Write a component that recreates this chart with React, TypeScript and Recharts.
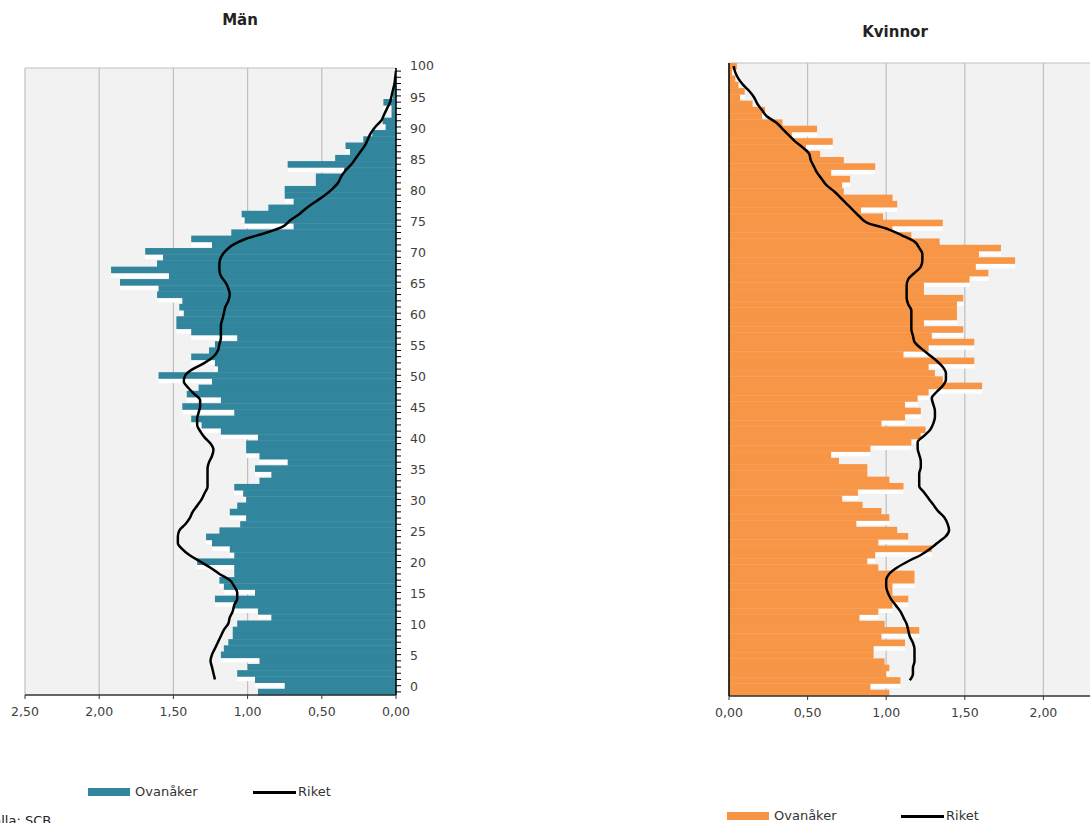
import React from "react";
import {
  ComposedChart,
  Bar,
  Line,
  XAxis,
  YAxis,
  CartesianGrid,
} from "recharts";

// ages 0..100 (one row each)
const ages = Array.from({ length: 101 }, (_, i) => i);

const menTicks = [0, 0.5, 1, 1.5, 2, 2.5];
// the 2,50 tick of the right chart lies outside the picture
const womenTicks = [0, 0.5, 1, 1.5, 2];

// Män, Ovanåker, age 0..100
const menOvanaker = [
  0.93, 0.75, 0.95, 1.07, 1.0, 0.92, 1.18, 1.16, 1.13, 1.1,
  1.1, 1.07, 0.84, 0.93, 1.09, 1.22, 0.95, 1.16, 1.19, 1.09,
  1.09, 1.34, 1.09, 1.12, 1.24, 1.28, 1.19, 1.05, 1.01, 1.12,
  1.07, 1.01, 1.03, 1.09, 0.92, 0.84, 0.95, 0.73, 0.92, 1.01,
  1.01, 0.93, 1.18, 1.31, 1.38, 1.09, 1.44, 1.18, 1.41, 1.33,
  1.24, 1.6, 1.2, 1.22, 1.38, 1.26, 1.22, 1.07, 1.38, 1.48,
  1.48, 1.43, 1.46, 1.44, 1.61, 1.6, 1.86, 1.53, 1.92, 1.61,
  1.57, 1.69, 1.24, 1.38, 1.11, 0.69, 1.02, 1.04, 0.86, 0.69,
  0.75, 0.75, 0.54, 0.54, 0.35, 0.73, 0.41, 0.31, 0.34, 0.22,
  0.16, 0.07, 0.09, 0.03, 0.03, 0.085, 0.02, 0.015, 0.01, 0.005,
  0.003,
];

// Män, Riket, age 0..100
const menRiket = [
  null, null, 1.22, 1.23, 1.24, 1.25, 1.24, 1.22, 1.2, 1.18,
  1.16, 1.13, 1.12, 1.1, 1.09, 1.07, 1.07, 1.09, 1.12, 1.19,
  1.25, 1.32, 1.39, 1.44, 1.47, 1.47, 1.46, 1.42, 1.39, 1.37,
  1.34, 1.31, 1.29, 1.27, 1.27, 1.27, 1.27, 1.26, 1.24, 1.23,
  1.25, 1.29, 1.32, 1.34, 1.34, 1.33, 1.32, 1.32, 1.36, 1.4,
  1.43, 1.42, 1.37, 1.29, 1.23, 1.2, 1.19, 1.18, 1.18, 1.18,
  1.17, 1.16, 1.15, 1.13, 1.12, 1.13, 1.15, 1.18, 1.19, 1.19,
  1.18, 1.15, 1.1, 1.01, 0.87, 0.76, 0.71, 0.65, 0.6, 0.54,
  0.48, 0.43, 0.39, 0.37, 0.34, 0.3, 0.27, 0.24, 0.21, 0.19,
  0.17, 0.14, 0.1, 0.08, 0.06, 0.04, 0.03, 0.02, 0.01, 0.005,
  0.0,
];

// Kvinnor, Ovanåker, age 0..100
const womenOvanaker = [
  1.02, 0.9, 1.09, 1.0, 1.02, 0.99, 0.92, 0.92, 1.12, 0.97,
  1.21, 0.99, 0.83, 0.95, 1.04, 1.14, 1.04, 1.04, 1.18, 1.18,
  0.95, 0.88, 0.93, 1.29, 0.95, 1.14, 1.07, 0.81, 1.02, 0.97,
  0.85, 0.72, 0.82, 1.11, 1.02, 0.88, 0.88, 0.7, 0.65, 0.9,
  1.16, 1.22, 1.25, 0.97, 1.12, 1.22, 1.12, 1.2, 1.27, 1.61,
  1.36, 1.31, 1.27, 1.56, 1.11, 1.27, 1.56, 1.29, 1.49, 1.24,
  1.45, 1.45, 1.45, 1.49, 1.24, 1.24, 1.53, 1.65, 1.57, 1.82,
  1.59, 1.73, 1.34, 1.16, 1.04, 1.36, 0.98, 0.84, 1.07, 1.04,
  0.73, 0.72, 0.77, 0.65, 0.93, 0.73, 0.58, 0.49, 0.66, 0.4,
  0.56, 0.34, 0.21, 0.23, 0.15, 0.07, 0.1, 0.06, 0.04, 0.02,
  0.05,
];

// Kvinnor, Riket, age 0..100
const womenRiket = [
  null, null, 1.15, 1.17, 1.17, 1.18, 1.18, 1.18, 1.17, 1.15,
  1.14, 1.13, 1.11, 1.09, 1.06, 1.03, 1.01, 1.0, 1.0, 1.02,
  1.07, 1.14, 1.22, 1.28, 1.33, 1.38, 1.4, 1.39, 1.37, 1.33,
  1.3, 1.27, 1.24, 1.21, 1.21, 1.21, 1.22, 1.22, 1.21, 1.2,
  1.2, 1.24, 1.28, 1.3, 1.31, 1.31, 1.3, 1.29, 1.32, 1.36,
  1.38, 1.38, 1.36, 1.32, 1.27, 1.22, 1.18, 1.17, 1.16, 1.16,
  1.16, 1.16, 1.14, 1.13, 1.13, 1.13, 1.14, 1.18, 1.22, 1.23,
  1.23, 1.21, 1.18, 1.1, 1.01, 0.88, 0.83, 0.79, 0.75, 0.71,
  0.67, 0.62, 0.59, 0.56, 0.54, 0.52, 0.51, 0.47, 0.42, 0.38,
  0.34, 0.3, 0.24, 0.21, 0.18, 0.16, 0.13, 0.09, 0.06, 0.04,
  0.03,
];

const TEAL = "#31859c";
const ORANGE = "#f79646";
const FONT = "'DejaVu Sans', Verdana, sans-serif";

// oldest first so age 100 is drawn at the top
const buildRows = (vals: number[], riket: (number | null)[]) =>
  ages.map((a) => ({ age: a, ovanaker: vals[a], riket: riket[a] })).reverse();

const menRows = buildRows(menOvanaker, menRiket);
const womenRows = buildRows(womenOvanaker, womenRiket);

const fmt = (v: number) => v.toFixed(2).replace(".", ",");

// bar with a white drop shadow underneath (like the Excel original)
const ShadowBar = (props: any) => {
  const { x, y, width, height, fill, payload } = props;
  if (width == null || height == null) return null;
  const x0 = Math.min(x, x + width);
  const w = Math.abs(width);
  return (
    <g>
      {payload.age !== 0 && (
        <rect x={x0} y={y + 5} width={w} height={height} fill="#ffffff" />
      )}
      <rect x={x0} y={y} width={w} height={height + 0.6} fill={fill} />
    </g>
  );
};

const AgeTick = (props: any) => {
  const { x, y, payload } = props;
  if (payload.value % 5 !== 0) return null;
  return (
    <text
      x={x}
      y={y - 5}
      dy="0.35em"
      textAnchor="start"
      fill="#404040"
      fontSize={12.5}
      fontFamily={FONT}
    >
      {payload.value}
    </text>
  );
};

const tickStyle = { fill: "#404040", fontSize: 12.5, fontFamily: FONT };

const LegendBox = ({ left, top, color }: { left: number; top: number; color: string }) => (
  <>
    <div style={{ position: "absolute", left, top, width: 42, height: 8, background: color }} />
    <div style={{ position: "absolute", left: left + 47, top: top - 4, fontSize: 13, fontFamily: FONT, color: "#333", lineHeight: "16px" }}>
      Ovanåker
    </div>
  </>
);

const LegendLine = ({ left, top }: { left: number; top: number }) => (
  <>
    <div style={{ position: "absolute", left, top, width: 43, height: 2.5, background: "#000" }} />
    <div style={{ position: "absolute", left: left + 45, top: top - 7, fontSize: 13, fontFamily: FONT, color: "#333", lineHeight: "16px" }}>
      Riket
    </div>
  </>
);

export default function App() {
  return (
    <div
      style={{
        position: "absolute",
        left: 0,
        top: 0,
        width: 1090,
        height: 823,
        overflow: "hidden",
        background: "#fff",
        fontFamily: FONT,
      }}
    >
      <div style={{ position: "absolute", left: 140, top: 10, width: 200, textAlign: "center", fontSize: 15, fontWeight: "bold", color: "#222", lineHeight: "20px" }}>
        Män
      </div>
      <div style={{ position: "absolute", left: 795, top: 22, width: 200, textAlign: "center", fontSize: 15, fontWeight: "bold", color: "#222", lineHeight: "20px" }}>
        Kvinnor
      </div>

      <div style={{ position: "absolute", left: 0, top: 0 }}>
        <ComposedChart
          width={450}
          height={740}
          data={menRows}
          layout="vertical"
          margin={{ top: 68, right: 0, bottom: 0, left: 25 }}
          barCategoryGap={0}
          barGap={0}
        >
          <CartesianGrid
            fill="#f2f2f2"
            stroke="#bfbfbf"
            strokeWidth={1.2}
            vertical={true}
            horizontal={true}
            horizontalPoints={[68]}
          />
          <XAxis
            type="number"
            domain={[0, 2.5]}
            reversed
            ticks={menTicks}
            tickFormatter={fmt}
            allowDataOverflow
            height={45}
            tickSize={4}
            tickMargin={8}
            tick={tickStyle}
            axisLine={{ stroke: "#333", strokeWidth: 1.5 }}
            tickLine={{ stroke: "#333" }}
          />
          <YAxis
            type="category"
            dataKey="age"
            orientation="right"
            width={54}
            interval={0}
            tickSize={5}
            tickMargin={9}
            tick={<AgeTick />}
            axisLine={{ stroke: "#000", strokeWidth: 1.5 }}
            tickLine={{ stroke: "#000" }}
          />
          <Bar dataKey="ovanaker" fill={TEAL} shape={ShadowBar} isAnimationActive={false} />
          <Line
            dataKey="riket"
            type="monotone"
            stroke="#000"
            strokeWidth={2.5}
            dot={false}
            isAnimationActive={false}
          />
        </ComposedChart>
      </div>

      <div style={{ position: "absolute", left: 680, top: 0 }}>
        <ComposedChart
          width={460}
          height={740}
          data={womenRows}
          layout="vertical"
          margin={{ top: 63, right: 18, bottom: 0, left: 0 }}
          barCategoryGap={0}
          barGap={0}
        >
          <CartesianGrid
            fill="#f2f2f2"
            stroke="#bfbfbf"
            strokeWidth={1.2}
            vertical={true}
            horizontal={true}
            horizontalPoints={[63]}
          />
          <XAxis
            type="number"
            domain={[0, 2.5]}
            ticks={womenTicks}
            tickFormatter={fmt}
            allowDataOverflow
            height={44}
            tickSize={4}
            tickMargin={8}
            tick={tickStyle}
            axisLine={{ stroke: "#333", strokeWidth: 1.5 }}
            tickLine={{ stroke: "#333" }}
          />
          <YAxis
            type="category"
            dataKey="age"
            orientation="left"
            width={49}
            interval={0}
            tickSize={5}
            tick={false}
            axisLine={{ stroke: "#000", strokeWidth: 1.5 }}
            tickLine={{ stroke: "#000" }}
          />
          <Bar dataKey="ovanaker" fill={ORANGE} shape={ShadowBar} isAnimationActive={false} />
          <Line
            dataKey="riket"
            type="monotone"
            stroke="#000"
            strokeWidth={2.5}
            dot={false}
            isAnimationActive={false}
          />
        </ComposedChart>
      </div>

      <LegendBox left={88} top={788} color={TEAL} />
      <LegendLine left={253} top={791} />
      <LegendBox left={727} top={812} color={ORANGE} />
      <LegendLine left={901} top={815} />

      <div style={{ position: "absolute", left: -15, top: 813, fontSize: 13, fontFamily: FONT, color: "#222", lineHeight: "16px" }}>
        Källa: SCB
      </div>
    </div>
  );
}
